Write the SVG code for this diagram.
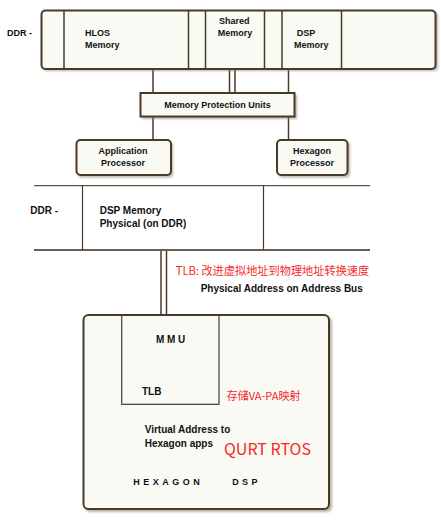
<svg xmlns="http://www.w3.org/2000/svg" width="441" height="521" viewBox="0 0 441 521">
<defs>
<filter id="sh" x="-10%" y="-10%" width="130%" height="130%">
<feGaussianBlur stdDeviation="1"/>
</filter>
<style>
.box{fill:#fafaf4;stroke:#4a3a28;stroke-width:2}
.shadow{fill:#8a8070;opacity:0.6;filter:url(#sh)}
.ln{stroke:#4a3a28;stroke-width:1.5;fill:none}
.thin{stroke:#4a3a28;stroke-width:1.2;fill:none}
.t{font-family:"Liberation Sans",Arial,sans-serif;font-weight:bold;font-size:9px;fill:#111}
.t10{font-family:"Liberation Sans",Arial,sans-serif;font-weight:bold;font-size:10px;fill:#111}
.mid{text-anchor:middle}
.red{font-family:"Noto Sans CJK SC","Liberation Sans",sans-serif;fill:#f52828}
</style>
</defs>

<g id="connectors">
<line class="ln" x1="153" y1="69" x2="153" y2="93"/>
<line class="ln" x1="229.5" y1="69" x2="229.5" y2="93"/>
<line class="ln" x1="235" y1="69" x2="235" y2="93"/>
<line class="ln" x1="288.5" y1="69" x2="288.5" y2="93"/>
<line class="ln" x1="153" y1="117" x2="153" y2="140"/>
<line class="ln" x1="288.5" y1="117" x2="288.5" y2="140"/>
<line class="ln" x1="161" y1="250" x2="161" y2="315"/>
<line class="ln" x1="166.5" y1="250" x2="166.5" y2="315"/>
<line class="ln" x1="134.5" y1="404" x2="134.5" y2="451"/>
</g>

<g id="ddr-top">
<rect class="shadow" x="43" y="12" width="395" height="59" rx="4"/>
<rect class="box" x="41.5" y="10.5" width="394" height="58.5" rx="4"/>
<line class="ln" x1="64" y1="10.5" x2="64" y2="69"/>
<line class="ln" x1="188.5" y1="10.5" x2="188.5" y2="69"/>
<line class="ln" x1="205.5" y1="10.5" x2="205.5" y2="69"/>
<line class="ln" x1="264.5" y1="10.5" x2="264.5" y2="69"/>
<line class="ln" x1="282" y1="10.5" x2="282" y2="69"/>
<line class="ln" x1="341.5" y1="10.5" x2="341.5" y2="69"/>
<text class="t" x="7" y="36">DDR -</text>
<text class="t" x="85" y="36">HLOS</text>
<text class="t" x="85" y="47.7">Memory</text>
<text class="t" x="219" y="24.3">Shared</text>
<text class="t" x="217.7" y="36">Memory</text>
<text class="t" x="296.7" y="36">DSP</text>
<text class="t" x="294" y="47.7">Memory</text>
</g>

<g id="mpu">
<rect class="shadow" x="142" y="95" width="155" height="24"/>
<rect class="box" x="140.5" y="93" width="154" height="23.5"/>
<text class="t mid" x="217.5" y="107.5">Memory Protection Units</text>
</g>

<g id="app-proc">
<rect class="shadow" x="78" y="142" width="95" height="35.5" rx="4"/>
<rect class="box" x="76.5" y="140" width="94.5" height="35" rx="4"/>
<text class="t mid" x="123" y="154">Application</text>
<text class="t mid" x="123" y="165.7">Processor</text>
</g>

<g id="hex-proc">
<rect class="shadow" x="279" y="142" width="71" height="35.5" rx="4"/>
<rect class="box" x="277" y="140" width="70.5" height="35" rx="4"/>
<text class="t mid" x="312" y="154">Hexagon</text>
<text class="t mid" x="312" y="165.7">Processor</text>
</g>

<g id="ddr-bottom">
<line stroke="#3a2a18" stroke-width="1" x1="34" y1="185.7" x2="370" y2="185.7"/>
<line stroke="#6a5e50" stroke-width="2" x1="34" y1="250" x2="370" y2="250"/>
<line class="thin" x1="82.5" y1="185.7" x2="82.5" y2="250"/>
<line class="thin" x1="263.5" y1="185.7" x2="263.5" y2="250"/>
<text class="t10" x="30.3" y="214.3">DDR -</text>
<text class="t10" x="99.7" y="214.3">DSP Memory</text>
<text class="t10" x="99.7" y="227.3">Physical (on DDR)</text>
</g>

<g id="bus-labels">
<text class="red" font-size="11.2" x="175.7" y="275">TLB: 改进虚拟地址到物理地址转换速度</text>
<text class="t10" x="200.7" y="291.7">Physical Address on Address Bus</text>
</g>

<g id="hexagon-dsp">
<rect class="shadow" x="85" y="317" width="247" height="195" rx="5"/>
<rect class="box" x="83.5" y="315" width="245.5" height="194" rx="5"/>
<text class="t" x="133.3" y="485" letter-spacing="3.5">HEXAGON</text>
<text class="t" x="232.3" y="485" letter-spacing="3.3">DSP</text>
<text class="t10" x="144.7" y="433.3">Virtual Address to</text>
<text class="t10" x="144.7" y="446.7">Hexagon apps</text>
<text class="red" font-size="16" x="224" y="455">QURT RTOS</text>
<text class="red" font-size="11" x="226.7" y="400">存储VA-PA映射</text>
</g>

<g id="mmu">
<rect class="thin" x="121.7" y="315" width="97.3" height="89.3" stroke-width="1.5"/>
<text class="t10" x="156" y="343.3" letter-spacing="2.7">MMU</text>
<text class="t10" x="142" y="395">TLB</text>
</g>
</svg>
